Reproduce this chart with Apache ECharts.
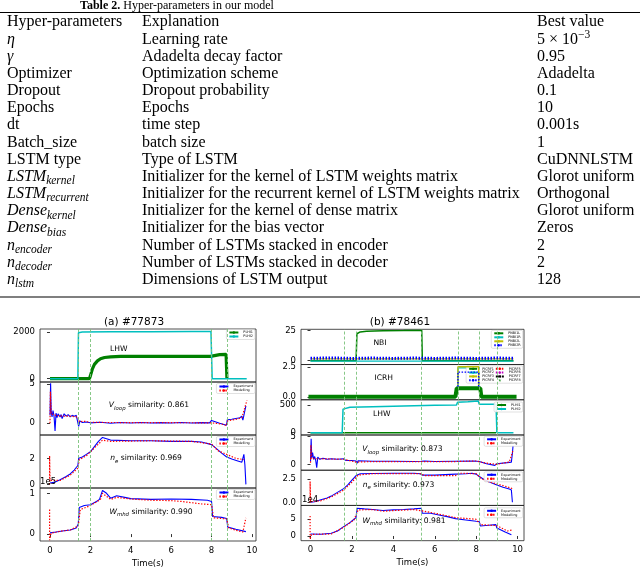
<!DOCTYPE html>
<html><head><meta charset="utf-8">
<script src="https://cdn.jsdelivr.net/npm/echarts@6/dist/echarts.min.js"></script>
<style>html,body{margin:0;padding:0;background:#fff}#c{width:640px;height:569px}</style>
</head><body><div id="c"></div>
<script>
// ================= TABLE CONTENT =================
const tableLabel = 'Table 2.';
const tableCaption = ' Hyper-parameters in our model';
const tableHeaders = ['Hyper-parameters', 'Explanation', 'Best value'];
const hyperParams = ['{m|η}', '{m|γ}', '{r|Optimizer}', '{r|Dropout}', '{r|Epochs}', '{r|dt}', '{r|Batch_size}', '{r|LSTM type}',
  '{m|LSTM}{s|kernel}', '{m|LSTM}{s|recurrent}', '{m|Dense}{s|kernel}', '{m|Dense}{s|bias}',
  '{m|n}{s|encoder}', '{m|n}{s|decoder}', '{m|n}{s|lstm}'];
const explanations = ['Learning rate', 'Adadelta decay factor', 'Optimization scheme', 'Dropout probability', 'Epochs',
  'time step', 'batch size', 'Type of LSTM', 'Initializer for the kernel of LSTM weights matrix',
  'Initializer for the recurrent kernel of LSTM weights matrix', 'Initializer for the kernel of dense matrix',
  'Initializer for the bias vector', 'Number of LSTMs stacked in encoder', 'Number of LSTMs stacked in decoder',
  'Dimensions of LSTM output'];
const bestValues = ['{r|5 × 10}{p|−3}', '{r|0.95}', '{r|Adadelta}', '{r|0.1}', '{r|10}', '{r|0.001s}', '{r|1}', '{r|CuDNNLSTM}',
  '{r|Glorot uniform}', '{r|Orthogonal}', '{r|Glorot uniform}', '{r|Zeros}', '{r|2}', '{r|2}', '{r|128}'];

// ================= PLOT CONTENT =================
const titleA = '(a) #77873';
const titleB = '(b) #78461';
const timeTicks = [0, 2, 4, 6, 8, 10];
const vlinesA = [1.4, 2.0, 8.0, 8.78];
const vlinesB = [1.63, 2.21, 5.37, 7.14, 8.15, 9.0];

// (a) panel 1 : LHW power
const a1Ticks = [0, 2000];
const a1PLHI1 = [[0,0],[1.95,0],[2.0,120],[2.1,420],[2.2,610],[2.35,760],[2.5,850],[2.7,905],[3.0,935],[3.5,950],[4,955],[5,955],[6,955],[7,950],[7.95,950],[8.0,1020],[8.4,1030],[8.72,1040],[8.76,0]];
const a1PLHI2 = [[0,0],[1.38,0],[1.41,1965],[1.6,1990],[3,2000],[5,2005],[7,2010],[7.97,2010],[8.03,0],[9.74,0]];
// (a) panel 2 : Vloop
const a2Ticks = [0, 5];
const a2Exp = [[0,1.0],[0.03,5.1],[0.06,1.5],[0.1,0.8],[0.15,1.6],[0.2,0.9],[0.25,-1.0],[0.3,1.3],[0.35,0.7],[0.4,1.2],[0.5,0.8],[0.55,1.1],[0.6,0.6],[0.7,1.2],[0.8,0.9],[0.9,1.1],[1.0,0.8],[1.1,1.0],[1.2,0.9],[1.3,1.0],[1.38,0.9],[1.42,-0.4],[1.48,0.3],[1.6,0.1],[1.8,0.15],[2.0,0.05],[2.5,0.12],[3.0,0.0],[3.5,0.1],[4,0.03],[4.5,0.1],[5,0.02],[5.5,0.08],[6,0.03],[6.5,0.1],[7,0.02],[7.5,0.08],[7.9,0.05],[8.0,0.35],[8.05,0.1],[8.4,0.0],[8.74,-0.25],[8.78,0.45],[9.0,0.5],[9.2,0.6],[9.4,0.7],[9.5,0.9],[9.55,0.4],[9.6,1.0],[9.7,2.2]];
const a2Mod = [[0,0],[0.02,4.0],[0.06,1.2],[0.3,1.0],[0.6,0.9],[1.0,0.9],[1.38,0.8],[1.45,0.2],[1.7,0.25],[2.0,0.1],[8.0,0.05],[8.5,-0.1],[8.74,-0.3],[8.8,0.3],[9.2,0.5],[9.5,0.7],[9.75,2.9]];
// (a) panel 3 : ne
const a3Ticks = [0, 2];
const a3Exp = [[0,0.1],[0.2,0.15],[0.5,0.35],[0.8,0.6],[1.0,0.8],[1.2,1.1],[1.38,1.45],[1.42,2.0],[1.6,2.1],[1.8,2.3],[2.0,2.5],[2.2,2.9],[2.4,3.3],[2.6,3.6],[2.8,3.5],[3.0,3.4],[4,3.35],[5,3.35],[6,3.3],[7,3.3],[7.5,3.25],[8.0,3.05],[8.2,2.8],[8.5,2.4],[8.75,2.1],[9.0,1.95],[9.3,1.8],[9.5,1.7],[9.6,2.3],[9.65,1.5],[9.7,0.0]];
const a3Mod = [[-0.02,0],[-0.02,2.2],[0.0,0.3],[0.05,0.2],[0.5,0.3],[1.0,0.7],[1.38,1.25],[1.45,1.9],[1.8,2.2],[2.2,2.8],[2.6,3.4],[3.0,3.3],[5,3.35],[7,3.3],[8.0,3.1],[8.3,2.6],[8.75,2.3],[9.2,2.0],[9.6,1.9]];
// (a) panel 4 : Wmhd (x1e5)
const a4Ticks = [0, 1];
const a4Exp = [[0,0.03],[0.3,0.05],[0.7,0.08],[1.0,0.1],[1.3,0.15],[1.4,0.25],[1.45,0.65],[1.7,0.7],[2.0,0.72],[2.3,0.8],[2.45,0.85],[2.6,1.07],[2.8,1.0],[3.0,0.88],[3.3,0.94],[3.7,0.9],[4,0.87],[5,0.85],[6,0.86],[7,0.85],[7.8,0.83],[8.0,0.8],[8.05,0.43],[8.5,0.41],[8.75,0.38],[8.8,0.17],[9.2,0.12],[9.7,0.06]];
const a4Mod = [[-0.02,0.6],[-0.02,-0.15],[0.05,0.02],[0.5,0.07],[1.0,0.1],[1.4,0.2],[1.5,0.6],[2.0,0.7],[2.5,0.85],[2.6,1.0],[3,0.85],[3.3,0.9],[4,0.86],[5,0.83],[6,0.82],[6.5,0.8],[7,0.77],[7.5,0.74],[8.0,0.72],[8.1,0.4],[8.75,0.37],[8.85,0.15],[9.3,0.08],[9.55,0.05],[9.7,0.4]];

// (b) panel 1 : NBI
const b1Ticks = [0, 25];
const b1N1L = [[0,0],[2.2,0],[2.24,22.5],[2.4,24],[2.7,24.6],[3.5,24.9],[4.5,25.1],[5.37,25.3],[5.4,0],[9.8,0]];
const b1N1R = [[0,-0.3],[9.8,-0.3]];
const b1N2L = [[0,1.5],[9.8,1.5]];
const b1N2R = [[0,2.0],[1,2.3],[2,1.9],[3,2.2],[4,1.9],[5,2.2],[6,1.9],[7,2.2],[8,1.9],[9,2.2],[9.8,2.0]];
// (b) panel 2 : ICRH
const b2Ticks = [0, 2.5];
const b2I1 = [[-0.1,0.05],[7.0,0.05],[7.06,0.75],[8.2,0.75],[8.25,0.05],[9.95,0.05]];
const b2I2 = [[7.12,1.0],[7.12,2.45],[8.12,2.45],[8.12,1.0]];
const b2I3 = [[7.12,1.0],[7.12,2.55],[8.12,2.55],[8.12,1.0]];
const b2I4 = [[7.12,0.9],[7.12,2.1],[8.12,2.1],[8.12,0.9]];
// (b) panel 3 : LHW
const b3Ticks = [0, 500];
const b3PLHI1 = [[0,0],[8.96,0]];
const b3PLHI2 = [[0,0],[1.53,0],[1.57,425],[1.9,458],[3,470],[4,478],[5,486],[6,493],[7.05,500],[7.1,549],[7.6,558],[8.1,572],[8.15,512],[8.96,512],[9.0,0],[9.8,0]];
// (b) panel 4 : Vloop
const b4Ticks = [0, 5];
const b4Exp = [[0,0.5],[0.03,4.6],[0.06,1.2],[0.1,2.1],[0.15,0.9],[0.2,1.4],[0.25,0.7],[0.3,-0.6],[0.35,1.3],[0.45,0.9],[0.6,1.1],[0.8,0.9],[1.0,1.0],[1.3,0.9],[1.6,1.0],[1.7,0.7],[2.0,0.7],[2.2,0.6],[2.25,0.2],[2.3,0.65],[3,0.55],[4,0.55],[5,0.5],[5.35,0.55],[5.4,0.9],[5.5,0.6],[6,0.5],[7,0.55],[7.9,0.6],[8.15,0.5],[8.5,0.1],[8.9,-0.2],[9.0,0.1],[9.5,0.3],[9.7,0.4],[9.75,2.0],[9.78,3.3]];
const b4Mod = [[0,0.3],[0.02,3.5],[0.06,1.0],[0.5,1.0],[1.6,0.9],[2.2,0.4],[3,0.5],[7,0.5],[8,0.6],[8.5,0.2],[9.0,0.0],[9.6,0.4],[9.78,2.5]];
// (b) panel 5 : ne
const b5Ticks = [0, 2.5];
const b5Exp = [[0,0.05],[0.2,0.1],[0.5,0.3],[0.8,0.5],[1.0,0.7],[1.3,1.1],[1.6,1.5],[1.8,1.9],[2.0,2.4],[2.2,2.9],[2.4,3.1],[3,3.12],[4,3.15],[5,3.15],[5.3,3.1],[5.4,2.95],[6,2.95],[6.5,3.0],[7,3.05],[7.5,3.1],[7.8,3.15],[8.0,3.05],[8.15,2.8],[8.4,2.45],[8.7,2.15],[9.0,1.9],[9.3,1.65],[9.6,1.45],[9.7,1.35],[9.75,0.05]];
const b5Mod = [[-0.02,0],[-0.02,2.25],[0,0.1],[0.5,0.2],[1.0,0.6],[1.6,1.35],[2.0,2.2],[2.3,2.95],[3,3.1],[5.3,3.1],[5.5,2.9],[7,2.9],[7.2,3.15],[8.0,3.1],[8.2,2.65],[8.5,2.3],[9,2.0],[9.5,1.7],[9.75,1.5]];
// (b) panel 6 : Wmhd (x1e4)
const b6Ticks = [0, 5];
const b6Exp = [[0,0.6],[0.5,0.5],[1.0,0.8],[1.3,1.5],[1.6,2.8],[1.9,4.0],[2.1,5.0],[2.2,5.5],[2.25,8.3],[2.6,8.1],[3,7.9],[3.5,7.6],[4,7.8],[4.5,7.9],[5,8.1],[5.35,8.3],[5.4,6.8],[5.8,6.8],[6.2,6.3],[6.6,5.8],[7,5.2],[7.5,4.8],[8.0,4.4],[8.15,4.3],[8.2,3.0],[8.6,3.2],[8.95,3.4],[9.0,2.4],[9.4,1.2],[9.7,0.4]];
const b6Mod = [[-0.02,6],[-0.02,-1],[0.05,0.5],[1,0.6],[1.6,2.6],[2.1,4.8],[2.3,7.8],[3,7.9],[3.5,7.4],[4,7.6],[5,7.9],[5.4,7.5],[6,6.8],[7,5.5],[8,5.0],[8.2,3.4],[9,3.1],[9.5,1.5],[9.75,1.8]];

const legendNBI = ['PNBI1L', 'PNBI1R', 'PNBI2L', 'PNBI2R'];
const legendICRH = ['PICRF1', 'PICRF2', 'PICRF3', 'PICRF4', 'PICRF5', 'PICRF6', 'PICRF7', 'PICRF8'];
const legendLH = ['PLHI1', 'PLHI2'];
const legendSim = ['Experiment', 'Modelling'];

// ================= BUILD =================
const SANS = 'DejaVu Sans';
const SERIF = 'Liberation Serif';
const FS = 16;
const richT = {
  r: {fontFamily: SERIF, fontSize: FS, lineHeight: 21, verticalAlign: 'middle', color: '#000'},
  m: {fontFamily: SERIF, fontStyle: 'italic', fontSize: FS, lineHeight: 21, verticalAlign: 'middle', color: '#000'},
  s: {fontFamily: SERIF, fontStyle: 'italic', fontSize: 11.5, lineHeight: 11, verticalAlign: 'bottom', color: '#000'},
  p: {fontFamily: SERIF, fontSize: 11.5, lineHeight: 11, verticalAlign: 'top', color: '#000'}
};
const graphic = [];
function gtext(x, y, text, opt) {
  graphic.push({type: 'text', x: x, y: y, silent: true, z: 100,
    style: Object.assign({text: text, fill: '#000', textAlign: 'left', textVerticalAlign: 'middle'}, opt)});
}
// table
gtext(80, 6, '{b|' + tableLabel + '}{n|' + tableCaption + '}', {rich: {
  b: {fontFamily: SERIF, fontWeight: 'bold', fontSize: 12, color: '#000'},
  n: {fontFamily: SERIF, fontSize: 12, color: '#000'}}});
graphic.push({type: 'line', silent: true, shape: {x1: 0, y1: 12.5, x2: 640, y2: 12.5}, style: {stroke: '#000', lineWidth: 1.2}});
graphic.push({type: 'line', silent: true, shape: {x1: 0, y1: 297, x2: 640, y2: 297}, style: {stroke: '#000', lineWidth: 1.2}});
const colX = [7, 142, 537];
tableHeaders.forEach((h, i) => gtext(colX[i], 21.5, '{r|' + h + '}', {rich: richT}));
const rowY0 = 39.5, rowStep = 17.15;
hyperParams.forEach((p, k) => {
  const y = rowY0 + k * rowStep;
  gtext(colX[0], y, p, {rich: richT});
  gtext(colX[1], y, '{r|' + explanations[k] + '}', {rich: richT});
  gtext(colX[2], y, bestValues[k], {rich: richT});
});

// plots
const option = {animation: false, backgroundColor: '#fff', grid: [], xAxis: [], yAxis: [], series: [], legend: [], graphic: graphic};
const C = {b: '#0000ff', r: '#ff0000', g: '#008000', c: '#00bfbf', y: '#bfbf00', m: '#bf00bf', k: '#000000'};
const VLINE = {color: '#79c279', width: 0.9, type: [3, 2]};

function panel(cfg) {
  const i = option.grid.length;
  option.grid.push({left: cfg.left, width: cfg.width, top: cfg.top, height: cfg.height, show: true,
    borderColor: '#222', borderWidth: 0.8, backgroundColor: 'transparent'});
  option.xAxis.push({type: 'value', gridIndex: i, min: cfg.xmin, max: cfg.xmax,
    axisLine: {show: false}, splitLine: {show: false},
    axisTick: {show: !!cfg.bottom, customValues: timeTicks, length: 3, lineStyle: {color: '#000', width: 0.8}},
    axisLabel: {show: !!cfg.bottom, customValues: timeTicks, fontSize: 8.5, fontFamily: SANS, color: '#000', margin: 5},
    name: cfg.bottom ? 'Time(s)' : '', nameLocation: 'middle', nameGap: 18,
    nameTextStyle: {fontSize: 8.5, fontFamily: SANS, color: '#000'}});
  option.yAxis.push({type: 'value', gridIndex: i, min: cfg.ymin, max: cfg.ymax,
    axisLine: {show: false}, splitLine: {show: false},
    axisTick: {show: true, customValues: cfg.ticks, length: 3, lineStyle: {color: '#000', width: 0.8}},
    axisLabel: {customValues: cfg.ticks, fontSize: 8.5, fontFamily: SANS, color: '#000', margin: 5,
      formatter: v => cfg.dec ? v.toFixed(cfg.dec) : String(v)}});
  cfg.series.forEach((s, k) => {
    const ser = {type: s.scatter ? 'scatter' : 'line', name: s.name, xAxisIndex: i, yAxisIndex: i, data: s.data,
      silent: true, z: 2 + k};
    if (s.scatter) {
      ser.symbol = s.symbol; ser.symbolSize = s.size; ser.itemStyle = {color: s.color};
    } else {
      ser.symbol = 'none'; ser.showSymbol = false;
      ser.lineStyle = {color: s.color, width: s.width || 1.1, type: s.type || 'solid'};
      ser.itemStyle = {color: s.color};
    }
    if (k === 0) {
      ser.markLine = {silent: true, symbol: 'none', animation: false, label: {show: false},
        lineStyle: VLINE, data: cfg.vlines.map(v => ({xAxis: v}))};
    }
    option.series.push(ser);
  });
  if (cfg.legend) {
    option.legend.push(Object.assign({data: cfg.series.map(s => s.name), orient: 'vertical', selectedMode: false,
      itemWidth: 9, itemHeight: 3, itemGap: 1, padding: [1.5, 2], borderColor: '#ccc', borderWidth: 0.6,
      borderRadius: 1.5, backgroundColor: 'rgba(255,255,255,0.85)',
      textStyle: {fontSize: 3.4, fontFamily: SANS, color: '#000'}}, cfg.legend));
  }
}
const exp = d => ({name: legendSim[0], data: d, color: C.b, width: 1.1});
const mod = d => ({name: legendSim[1], data: d, color: C.r, width: 1.2, type: [1.4, 1.6]});

const LA = {left: 40, width: 216, xmin: -0.495, xmax: 10.2, vlines: vlinesA};
const legA = {right: 385};
panel(Object.assign({}, LA, {top: 329, height: 53, ymin: -140, ymax: 2120, ticks: a1Ticks,
  series: [{name: legendLH[0], data: a1PLHI1, color: C.g, width: 3.2}, {name: legendLH[1], data: a1PLHI2, color: C.c, width: 1.5}],
  legend: Object.assign({top: 329.5}, legA)}));
panel(Object.assign({}, LA, {top: 382, height: 53, ymin: -1.5, ymax: 5.25, ticks: a2Ticks,
  series: [exp(a2Exp), mod(a2Mod)], legend: Object.assign({top: 383.5}, legA)}));
panel(Object.assign({}, LA, {top: 435, height: 53, ymin: -0.28, ymax: 3.79, ticks: a3Ticks,
  series: [exp(a3Exp), mod(a3Mod)], legend: Object.assign({top: 436.5}, legA)}));
panel(Object.assign({}, LA, {top: 488, height: 53, ymin: -0.17, ymax: 1.13, ticks: a4Ticks, bottom: true,
  series: [exp(a4Exp), mod(a4Mod)], legend: Object.assign({top: 489.5}, legA)}));

const LB = {left: 301, width: 223, xmin: -0.46, xmax: 10.31, vlines: vlinesB};
const hB = 35.23;
const legB = {right: 117.3};
const STAR = 'path://M50,0 L61,35 98,35 68,57 79,91 50,70 21,91 32,57 2,35 39,35Z';
panel(Object.assign({}, LB, {top: 329.3, height: hB, ymin: -3.2, ymax: 26.2, ticks: b1Ticks,
  series: [{name: legendNBI[0], data: b1N1L, color: C.g, width: 1.5},
           {name: legendNBI[1], data: b1N1R, color: C.c, width: 1.3},
           {name: legendNBI[2], data: b1N2L, color: C.y, width: 1.3},
           {name: legendNBI[3], data: b1N2R, color: C.b, width: 3, type: [1.5, 1.5]}],
  legend: Object.assign({top: 330.3}, legB)}));
panel(Object.assign({}, LB, {top: 329.3 + hB, height: hB, ymin: -0.21, ymax: 2.73, ticks: b2Ticks, dec: 1,
  series: [{name: legendICRH[0], data: b2I1, color: C.g, width: 4},
           {name: legendICRH[1], data: b2I2, color: C.c, width: 1.2},
           {name: legendICRH[2], data: b2I3, color: C.y, width: 1.4},
           {name: legendICRH[3], data: b2I4, color: C.b, width: 1.4, type: [1.5, 1.5]},
           {name: legendICRH[4], data: [], color: C.r, width: 1.4, type: [1.5, 1.5]},
           {name: legendICRH[5], data: [], color: C.m, width: 1.4, type: [1.5, 1.5]},
           {name: legendICRH[6], data: [], color: C.k, width: 1.2, type: [3, 1, 1, 1]},
           {name: legendICRH[7], data: [], color: C.g, scatter: true, symbol: STAR, size: 6}],
  legend: Object.assign({top: 365.8, height: 15, itemGap: 0.8, itemWidth: 8}, legB)}));
panel(Object.assign({}, LB, {top: 329.3 + 2 * hB, height: hB, ymin: -41.5, ymax: 594, ticks: b3Ticks,
  series: [{name: legendLH[0], data: b3PLHI1, color: C.g, width: 1.5}, {name: legendLH[1], data: b3PLHI2, color: C.c, width: 1.5}],
  legend: Object.assign({top: 402}, legB)}));
panel(Object.assign({}, LB, {top: 329.3 + 3 * hB, height: hB, ymin: -1.07, ymax: 5.3, ticks: b4Ticks,
  series: [exp(b4Exp), mod(b4Mod)], legend: Object.assign({top: 436.3}, legB)}));
panel(Object.assign({}, LB, {top: 329.3 + 4 * hB, height: hB, ymin: -0.3, ymax: 3.47, ticks: b5Ticks, dec: 1,
  series: [exp(b5Exp), mod(b5Mod)], legend: Object.assign({top: 471.8}, legB)}));
panel(Object.assign({}, LB, {top: 329.3 + 5 * hB, height: hB, ymin: -1.4, ymax: 9.13, ticks: b6Ticks, bottom: true,
  series: [exp(b6Exp), mod(b6Mod)], legend: Object.assign({top: 507.8}, legB)}));

// annotations
const sans = (size, extra) => Object.assign({fontFamily: SANS, fontSize: size, color: '#000'}, extra || {});
const richSim = {
  v: sans(7.6, {fontStyle: 'italic', lineHeight: 11, verticalAlign: 'middle'}),
  s: sans(5.4, {fontStyle: 'italic', lineHeight: 6, verticalAlign: 'bottom'}),
  t: sans(7.6, {lineHeight: 11, verticalAlign: 'middle'})
};
function simText(cx, cy, main, sub, val) {
  graphic.push({type: 'text', x: cx, y: cy, silent: true, z: 100,
    style: {text: '{v|' + main + '}{s|' + sub + '}{t| similarity: ' + val + '}', rich: richSim,
      textAlign: 'center', textVerticalAlign: 'middle'}});
}
simText(149, 405.5, 'V', 'loop', '0.861');
simText(146, 458.3, 'n', 'e', '0.969');
simText(151, 511.7, 'W', 'mhd', '0.990');
simText(402.5, 449.3, 'V', 'loop', '0.873');
simText(398.5, 485, 'n', 'e', '0.973');
simText(404, 521, 'W', 'mhd', '0.981');
function ctext(cx, cy, txt, size) {
  graphic.push({type: 'text', x: cx, y: cy, silent: true, z: 100,
    style: {text: txt, fill: '#000', fontFamily: SANS, fontSize: size, textAlign: 'center', textVerticalAlign: 'middle'}});
}
ctext(134, 322, titleA, 10.5);
ctext(400, 322, titleB, 10.5);
ctext(118.7, 349.3, 'LHW', 7.6);
ctext(380, 343.3, 'NBI', 7.6);
ctext(383.7, 378.3, 'ICRH', 7.6);
ctext(381.7, 414.3, 'LHW', 7.6);
graphic.push({type: 'text', x: 40, y: 482, silent: true, z: 100,
  style: {text: '1e5', fill: '#000', fontFamily: SANS, fontSize: 8.5, textAlign: 'left', textVerticalAlign: 'middle'}});
graphic.push({type: 'text', x: 302, y: 500, silent: true, z: 100,
  style: {text: '1e4', fill: '#000', fontFamily: SANS, fontSize: 8.5, textAlign: 'left', textVerticalAlign: 'middle'}});

const chart = echarts.init(document.getElementById('c'), null, {renderer: 'canvas'});
chart.setOption(option);
</script></body></html>
